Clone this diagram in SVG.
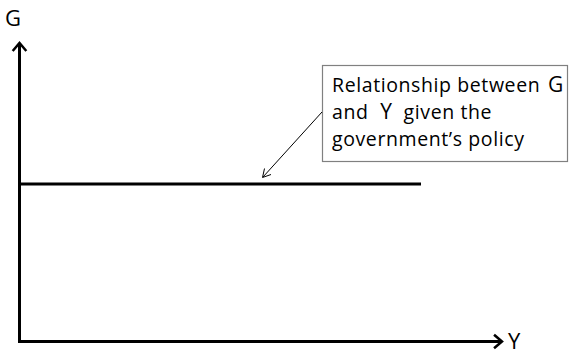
<svg xmlns="http://www.w3.org/2000/svg" width="570" height="356" viewBox="0 0 570 356">
<style>
.ax{stroke:#000;stroke-width:3;fill:none}
.hd{stroke:#000;stroke-width:2.5;fill:none;stroke-linecap:square}
.t{font-family:"Open Sans","Liberation Sans",sans-serif;font-size:19.5px;letter-spacing:0.6px;fill:#000}
.big{font-family:"Open Sans","Liberation Sans",sans-serif;font-size:22px;fill:#000}
.k{font-size:21px;letter-spacing:0}
</style>
<rect width="570" height="356" fill="#fff"/>
<g id="axes">
<path class="ax" d="M19.5 44 V341.5 H501"/>
<path class="hd" d="M13.5 50 L19.5 43 L25.5 50"/>
<path class="hd" d="M495 335.5 L502 341.5 L495 347.5"/>
</g>
<g id="labels">
<text class="big" x="5" y="26">G</text>
<text class="big" x="508" y="349">Y</text>
</g>
<g id="policy-line">
<line x1="20" y1="184" x2="421" y2="184" stroke="#000" stroke-width="3"/>
</g>
<g id="callout">
<rect x="322.5" y="65.5" width="245" height="96" fill="#fff" stroke="#808080" stroke-width="1.2"/>
<text class="t" x="332" y="92">Relationship between <tspan class="k" dx="2">G</tspan></text>
<text class="t" x="332" y="119">and <tspan class="k" dx="6">Y</tspan><tspan dx="6"> given the</tspan></text>
<text class="t" x="332" y="146">government’s policy</text>
</g>
<g id="connectors">
<line x1="322" y1="112" x2="263" y2="177" stroke="#000" stroke-width="1"/>
<path d="M264.5 168.5 L262.5 177.5 L271 174.5" stroke="#000" stroke-width="1" fill="none"/>
</g>
</svg>
